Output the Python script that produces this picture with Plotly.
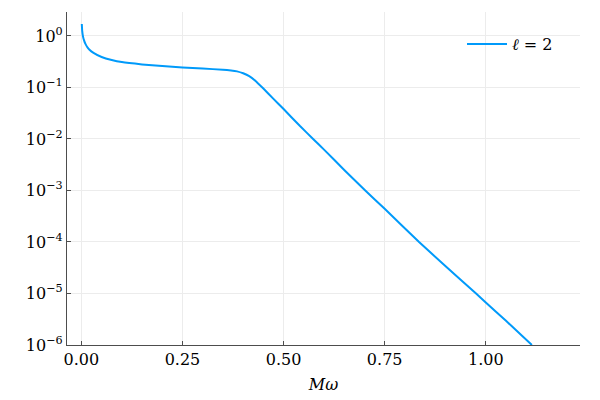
import plotly.graph_objects as go

# values
m_omega = [0.001, 0.002, 0.004, 0.007, 0.01, 0.015, 0.02, 0.03, 0.05, 0.075, 0.1,
           0.15, 0.2, 0.25, 0.3, 0.35, 0.37, 0.385, 0.40, 0.415, 0.43, 0.45,
           0.475, 0.50, 0.54, 0.573, 0.60, 0.65, 0.702, 0.75, 0.835, 0.90,
           0.976, 1.0, 1.05, 1.114]
amplitude = [1.7, 1.25, 0.97, 0.80, 0.70, 0.60, 0.54, 0.47, 0.39, 0.34, 0.31,
             0.28, 0.26, 0.244, 0.232, 0.221, 0.214, 0.205, 0.188, 0.165, 0.135, 0.095,
             0.060, 0.038, 0.018, 0.010, 0.0062, 0.0025, 0.001, 0.00044, 0.0001, 3.4e-5,
             1.0e-5, 6.7e-6, 2.95e-6, 1.0e-6]

x_ticks = [0.0, 0.25, 0.5, 0.75, 1.0]
x_labels = ["0.00", "0.25", "0.50", "0.75", "1.00"]
y_ticks = [1, 1e-1, 1e-2, 1e-3, 1e-4, 1e-5, 1e-6]
y_labels = ["10<sup>0</sup>", "10<sup>−1</sup>", "10<sup>−2</sup>", "10<sup>−3</sup>",
            "10<sup>−4</sup>", "10<sup>−5</sup>", "10<sup>−6</sup>"]

font = "DejaVu Serif"

fig = go.Figure()
fig.add_trace(go.Scatter(
    x=m_omega, y=amplitude, mode="lines",
    name="<i>ℓ</i> = 2",
    line=dict(color="#009AFA", width=2, shape="spline", smoothing=0.3),
))

axis_common = dict(
    showline=True, linecolor="#4d4d4d", linewidth=1.2, mirror=False,
    ticks="inside", ticklen=4, tickcolor="#4d4d4d",
    showgrid=True, gridcolor="#ececec", gridwidth=1, zeroline=False,
    automargin=False,
    tickfont=dict(family=font, size=16, color="black"),
)

fig.update_xaxes(range=[-0.0356, 1.233], tickvals=x_ticks, ticktext=x_labels,
                 title=dict(text="<i>Mω</i>", font=dict(family=font, size=16, color="black"),
                            standoff=10),
                 **axis_common)
fig.update_yaxes(type="log", range=[-6, 0.464], tickvals=y_ticks, ticktext=y_labels,
                 **axis_common)

# page body adds an 8px offset, so margins are shifted to land the plot area
# where the reference has it
fig.update_layout(
    width=600, height=400,
    margin=dict(l=59, r=28, t=4, b=63),
    plot_bgcolor="white", paper_bgcolor="white",
    showlegend=True,
    legend=dict(x=0.77, y=0.955, xanchor="left", yanchor="top",
                bgcolor="rgba(255,255,255,0)", borderwidth=0, itemwidth=40,
                font=dict(family=font, size=16, color="black")),
)

fig.write_html("out.html")
